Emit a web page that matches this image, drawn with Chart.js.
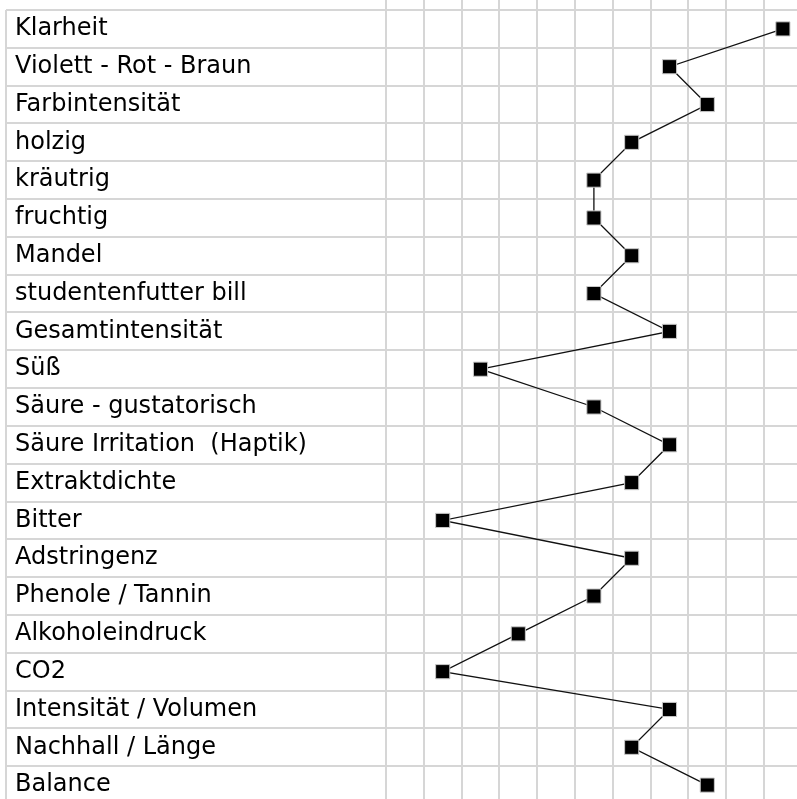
<!DOCTYPE html>
<html>
<head>
<meta charset="utf-8">
<script src="https://cdn.jsdelivr.net/npm/chart.js@4/dist/chart.umd.min.js"></script>
<style>
  html, body { margin: 0; padding: 0; background: #fff; overflow: hidden; }
  #wrap { position: absolute; left: 0; top: 0; width: 797px; height: 804px; }
</style>
</head>
<body>
<div id="wrap"><canvas id="profile-chart"></canvas></div>
<script>
// Sensory attributes (top to bottom)
const attributes = [
    'Klarheit',
    'Violett - Rot - Braun',
    'Farbintensität',
    'holzig',
    'kräutrig',
    'fruchtig',
    'Mandel',
    'studentenfutter bill',
    'Gesamtintensität',
    'Süß',
    'Säure - gustatorisch',
    'Säure Irritation  (Haptik)',
    'Extraktdichte',
    'Bitter',
    'Adstringenz',
    'Phenole / Tannin',
    'Alkoholeindruck',
    'CO2',
    'Intensität / Volumen',
    'Nachhall / Länge',
    'Balance'
];

// Scores, one per attribute
const scores = [11, 8, 9, 7, 6, 6, 7, 6, 8, 3, 6, 8, 7, 2, 7, 6, 4, 2, 8, 7, 9];

// Column borders of the grid (no visible labels)
const gridSteps = [0.5, 1.5, 2.5, 3.5, 4.5, 5.5, 6.5, 7.5, 8.5, 9.5, 10.5];

const GRID_COLOR = '#d6d6d6';
const LABEL_COL_RIGHT = 386;   // where the plot grid starts
const LABEL_COL_LEFT = 6;      // left border of the label column
const LABEL_X = 15;

// Left border of the label column
const labelFrame = {
    id: 'labelFrame',
    afterDraw(chart) {
        const { ctx, chartArea } = chart;
        ctx.save();
        ctx.strokeStyle = GRID_COLOR;
        ctx.lineWidth = 2;
        ctx.beginPath();
        ctx.moveTo(LABEL_COL_LEFT, chartArea.top);
        ctx.lineTo(LABEL_COL_LEFT, chartArea.bottom);
        ctx.stroke();
        ctx.restore();
    }
};

const ctx = document.getElementById('profile-chart').getContext('2d');

new Chart(ctx, {
    type: 'line',
    data: {
        labels: attributes,
        datasets: [{
            data: scores,
            borderColor: '#111',
            borderWidth: 1.3,
            tension: 0,
            pointStyle: 'rect',
            pointRadius: 10,
            pointHoverRadius: 10,
            pointBackgroundColor: '#000',
            pointBorderColor: '#c8c8c8',
            pointBorderWidth: 1
        }]
    },
    options: {
        indexAxis: 'y',
        responsive: true,
        maintainAspectRatio: false,
        animation: false,
        layout: { autoPadding: false, padding: { left: LABEL_X, top: 0, right: 0, bottom: 0 } },
        plugins: {
            legend: { display: false },
            tooltip: { enabled: false }
        },
        scales: {
            x: {
                type: 'linear',
                position: 'top',
                min: 0.5,
                max: 0.5 + 411 / 37.8,
                afterBuildTicks: (scale) => {
                    scale.ticks = gridSteps.map(v => ({ value: v }));
                },
                afterFit: (scale) => {
                    scale.paddingLeft = 0;
                    scale.paddingRight = 0;
                },
                grid: {
                    color: GRID_COLOR,
                    lineWidth: 2,
                    drawTicks: true,
                    tickLength: 10
                },
                border: { display: true, color: GRID_COLOR, width: 2 },
                ticks: { display: false }
            },
            y: {
                type: 'category',
                offset: true,
                afterFit: (scale) => {
                    scale.width = LABEL_COL_RIGHT - LABEL_X;
                    scale.paddingTop = 0;
                    scale.paddingBottom = 0;
                },
                grid: {
                    offset: true,
                    color: GRID_COLOR,
                    lineWidth: 2,
                    drawTicks: true,
                    tickLength: LABEL_COL_RIGHT - LABEL_COL_LEFT
                },
                border: { display: true, color: GRID_COLOR, width: 2 },
                ticks: {
                    crossAlign: 'far',
                    color: '#000',
                    autoSkip: false,
                    font: { family: 'DejaVu Sans', size: 24 }
                }
            }
        }
    },
    plugins: [labelFrame]
});
</script>
</body>
</html>
